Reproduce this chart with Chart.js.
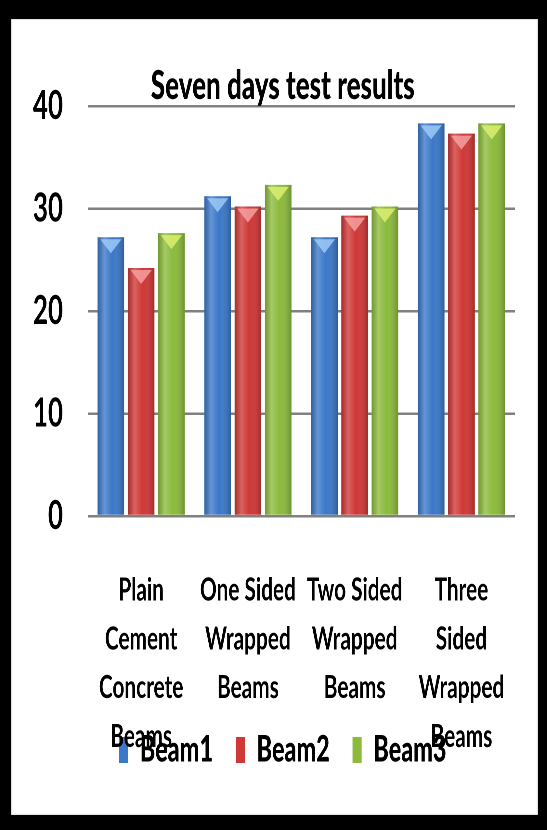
<!DOCTYPE html>
<html>
<head>
<meta charset="utf-8">
<script src="https://cdn.jsdelivr.net/npm/chart.js@4/dist/chart.umd.min.js"></script>
<style>
  html, body { margin: 0; padding: 0; background: #000; overflow: hidden; }
  #panel {
    position: absolute; left: 11px; top: 19px; width: 527px; height: 796px;
    background: #fff; box-shadow: inset 0 0 2px #999;
  }
  /* the reference text is very narrow, so the chart is drawn wide and squeezed */
  #chart {
    position: absolute; left: 0; top: 0;
    transform: scaleX(0.65); transform-origin: 0 0;
  }
</style>
</head>
<body>
<div id="panel"></div>
<canvas id="chart" width="842" height="830"></canvas>
<script>
(function () {
  "use strict";

  // ====
  // Data
  // ====
  const CATEGORIES = [
    ["Plain", "Cement", "Concrete", "Beams"],
    ["One Sided", "Wrapped", "Beams"],
    ["Two Sided", "Wrapped", "Beams"],
    ["Three", "Sided", "Wrapped", "Beams"],
  ];
  const SERIES_NAMES = ["Beam1", "Beam2", "Beam3"];
  const BEAM1 = [27.2, 31.2, 27.2, 38.3];
  const BEAM2 = [24.2, 30.2, 29.3, 37.3];
  const BEAM3 = [27.6, 32.3, 30.2, 38.3];
  const Y_TICKS = [0, 10, 20, 30, 40];

  const COLORS = ["#3b78c8", "#cf3836", "#8cbb3c"];
  const TOP_COLORS = ["#9ccaf6", "#f4a0a0", "#dcef70"];
  const FONT = "Lato, 'Open Sans', sans-serif";

  // ===========================
  // Shading for the 3D-ish bars
  // ===========================
  const barShading = {
    id: "barShading",
    afterDatasetsDraw(chart) {
      const ctx = chart.ctx;
      chart.data.datasets.forEach((ds, di) => {
        const meta = chart.getDatasetMeta(di);
        meta.data.forEach((bar) => {
          const w = bar.width;
          const left = bar.x - w / 2;
          const h = bar.base - bar.y;
          const g = ctx.createLinearGradient(left, 0, left + w, 0);
          g.addColorStop(0, "rgba(0,0,0,0.18)");
          g.addColorStop(0.25, "rgba(255,255,255,0.22)");
          g.addColorStop(0.55, "rgba(255,255,255,0)");
          g.addColorStop(1, "rgba(0,0,0,0.22)");
          ctx.save();
          ctx.fillStyle = g;
          ctx.fillRect(left, bar.y, w, h);
          // light triangle at the top of each bar
          ctx.fillStyle = TOP_COLORS[di];
          ctx.globalAlpha = 0.85;
          ctx.beginPath();
          ctx.moveTo(left + w * 0.1, bar.y + 2);
          ctx.lineTo(left + w * 0.9, bar.y + 2);
          ctx.lineTo(bar.x, bar.y + 16);
          ctx.closePath();
          ctx.fill();
          ctx.restore();
        });
      });
    },
  };

  const makeDataset = (i, values) => ({
    label: SERIES_NAMES[i],
    data: values,
    backgroundColor: COLORS[i],
    borderWidth: 0,
    categoryPercentage: 0.85,
    barPercentage: 0.88,
  });

  // tick labels in the reference spill past their axis box, so no clipping
  const noLabelClip = (scale) => { scale._computeLabelArea = () => undefined; };

  new Chart(document.getElementById("chart"), {
    type: "bar",
    data: {
      labels: CATEGORIES,
      datasets: [
        makeDataset(0, BEAM1),
        makeDataset(1, BEAM2),
        makeDataset(2, BEAM3),
      ],
    },
    options: {
      responsive: false,
      animation: false,
      devicePixelRatio: 2,
      layout: { padding: { left: 78, right: 50, top: 0, bottom: 52 } },
      scales: {
        x: {
          grid: { display: false, drawTicks: false },
          border: { display: false },
          ticks: {
            color: "#000",
            padding: 49.5,
            autoSkip: false,
            maxRotation: 0,
            minRotation: 0,
            font: { family: FONT, size: 32, weight: "bold", lineHeight: 1.53 },
          },
          afterFit: (scale) => { scale.height = 181; noLabelClip(scale); },
        },
        y: {
          min: Y_TICKS[0],
          max: Y_TICKS[Y_TICKS.length - 1],
          afterBuildTicks: (scale) => {
            scale.ticks = Y_TICKS.map((v) => ({ value: v }));
          },
          grid: { color: "#808080", lineWidth: 2.5, drawTicks: false },
          border: { display: false },
          ticks: {
            color: "#000",
            padding: 38,
            font: { family: FONT, size: 40, weight: "bold" },
          },
          afterFit: (scale) => { scale.width = 57; noLabelClip(scale); },
        },
      },
      plugins: {
        title: {
          display: true,
          text: "Seven days test results",
          color: "#000",
          font: { family: FONT, size: 40, weight: 900, lineHeight: 1.0 },
          padding: { top: 66, bottom: 0 },
        },
        legend: {
          position: "bottom",
          labels: {
            color: "#000",
            boxWidth: 14,
            boxHeight: 26,
            padding: 35,
            font: { family: FONT, size: 36, weight: 900 },
          },
        },
        tooltip: { enabled: false },
      },
    },
    plugins: [barShading],
  });
})();
</script>
</body>
</html>
